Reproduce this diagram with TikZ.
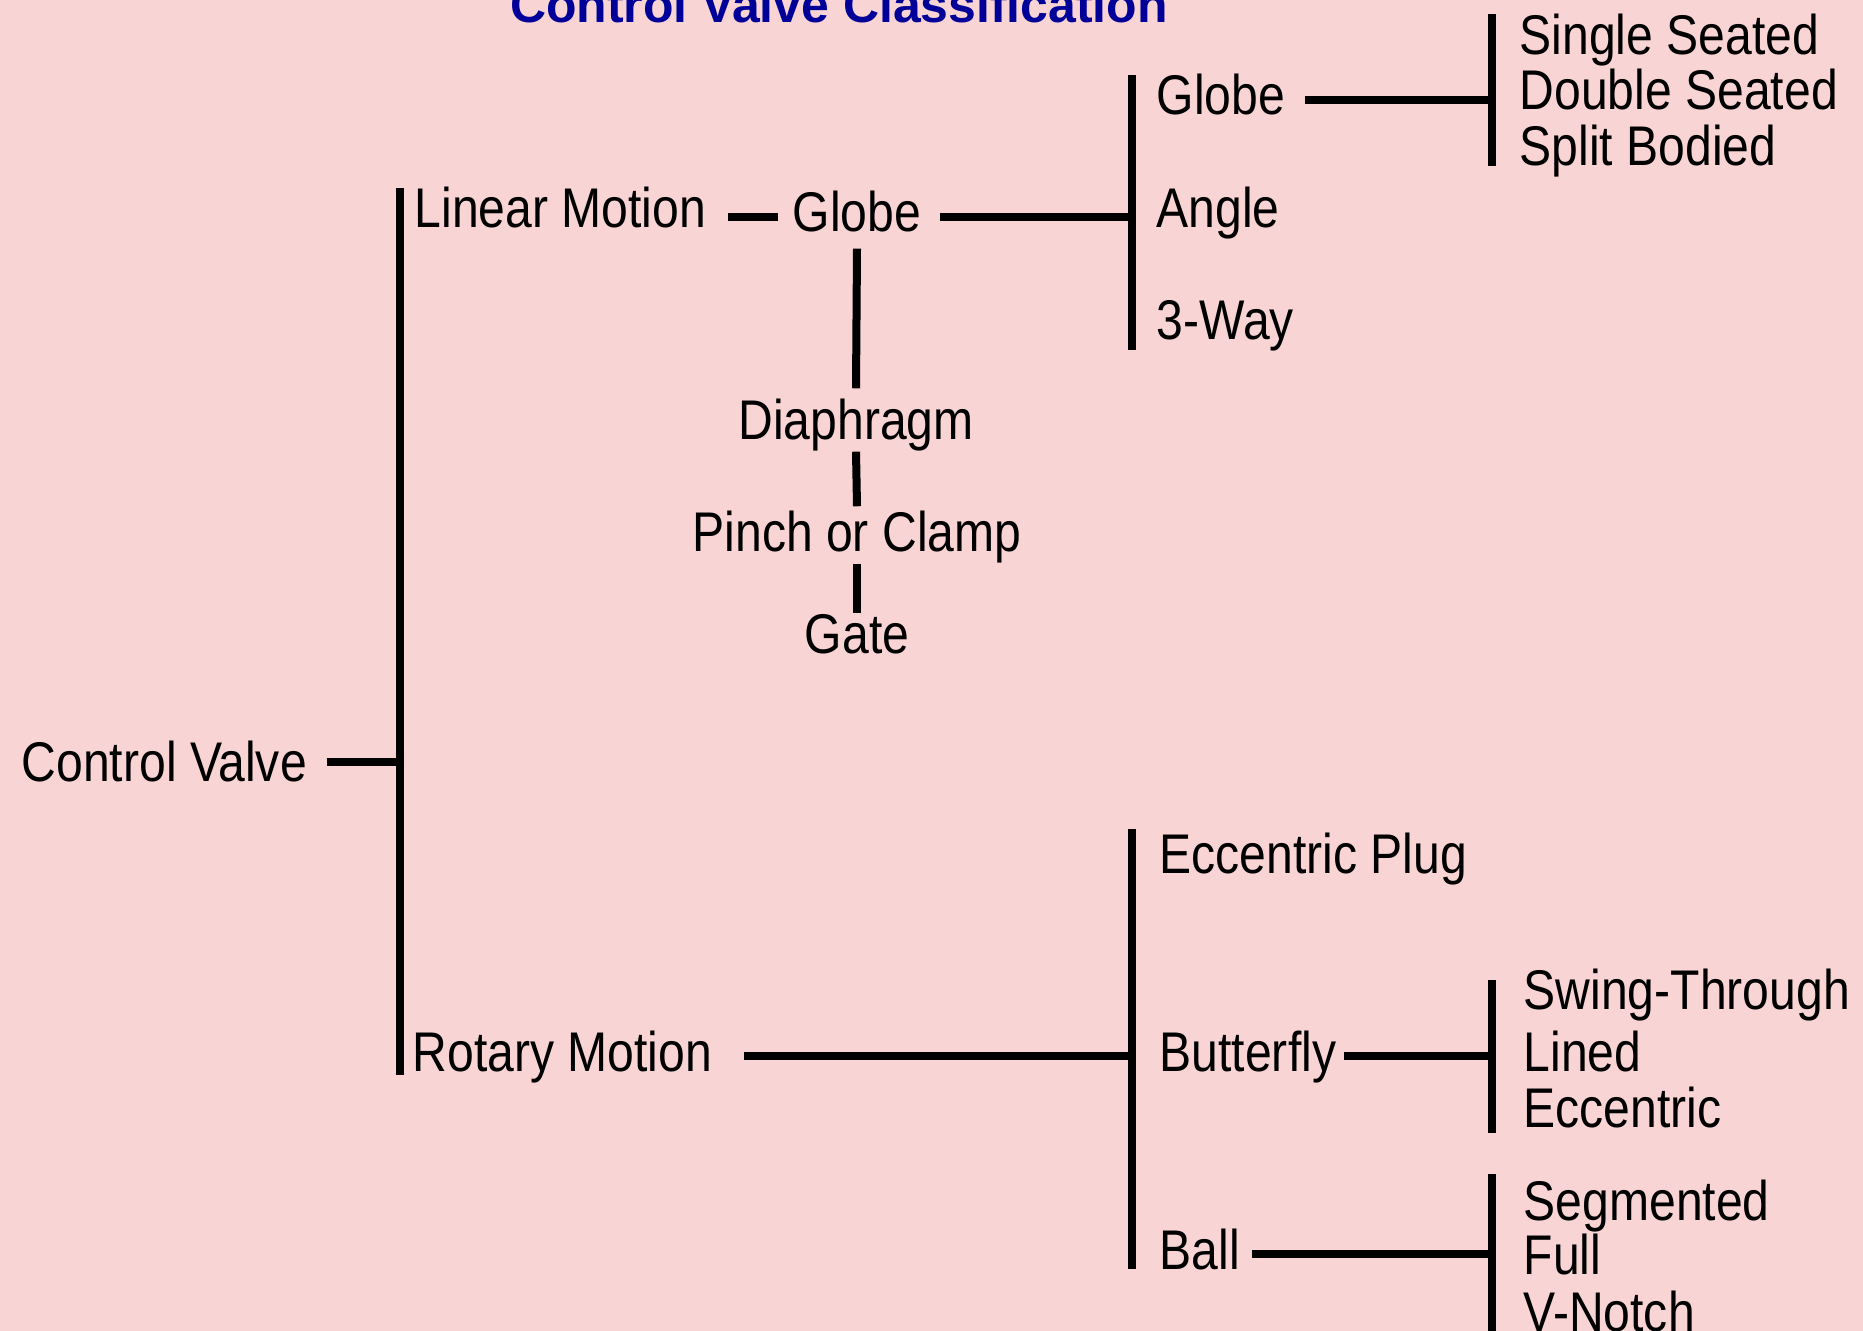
\documentclass[tikz,border=0pt]{standalone}
\usepackage{fontspec}
\setmainfont{Liberation Sans}
\newfontfamily\itemfont[FakeStretch=0.86]{Liberation Sans}
\usetikzlibrary{calc}
\definecolor{bgpink}{RGB}{248,212,212}
\definecolor{titleblue}{RGB}{0,0,153}
\newcommand{\itemtext}{\itemfont\fontsize{15.9}{18}\selectfont}
\newcommand{\titletext}{\bfseries\fontsize{14.2}{17}\selectfont}
\newcommand{\linkwidth}{0.08cm}

\begin{document}
\begin{tikzpicture}[
    x=0.01cm, y=0.01cm,
    item/.style={
        font=\itemtext,
        inner sep=0pt,
        text height=0.3cm,
        text depth=0pt,
        anchor=base west
    },
    midlabel/.style={item, anchor=base},
    heading/.style={font=\titletext, text=titleblue, inner sep=0pt, anchor=base},
    link/.style={line width=\linkwidth},
    brace/.style={line width=\linkwidth}
]

    % --- canvas ---
    \fill[bgpink] (0,0) rectangle (1863,-1331);
    \useasboundingbox (0,0) rectangle (1863,-1331);

    \node[heading] (title) at (839,-23) {Control Valve Classification};

    % --- 1) root and motion types ---
    \node[item] (root)   at (21,-782)   {Control Valve};
    \node[item] (linear) at (414,-228)  {Linear Motion};
    \node[item] (rotary) at (412,-1071) {Rotary Motion};

    % --- 2) linear motion column ---
    \node[midlabel] (lglobe)    at (857,-232) {Globe};
    \node[midlabel] (diaphragm) at (856,-440) {Diaphragm};
    \node[midlabel] (pinch)     at (857,-552) {Pinch or Clamp};
    \node[midlabel] (gate)      at (857,-654) {Gate};

    % --- 3) globe family ---
    \node[item] (globe)    at (1156,-115) {Globe};
    \node[item] (angle)    at (1156,-228) {Angle};
    \node[item] (threeway) at (1156,-340) {3-Way};

    \node[item] (single) at (1519,-55)  {Single Seated};
    \node[item] (double) at (1519,-110) {Double Seated};
    \node[item] (split)  at (1519,-166) {Split Bodied};

    % --- 4) rotary family ---
    \node[item] (plug)      at (1159,-874)  {Eccentric Plug};
    \node[item] (butterfly) at (1159,-1071) {Butterfly};
    \node[item] (ball)      at (1159,-1269) {Ball};

    \node[item] (swing) at (1523,-1010) {Swing-Through};
    \node[item] (lined) at (1523,-1071) {Lined};
    \node[item] (ecc)   at (1523,-1127) {Eccentric};

    \node[item] (segmented) at (1523,-1220) {Segmented};
    \node[item] (full)      at (1523,-1274) {Full};
    \node[item] (vnotch)    at (1523,-1331) {V-Notch};

    % --- bracket bars ---
    \coordinate (mainTop) at (400,-188);   \coordinate (mainBot) at (400,-1075);
    \coordinate (globeTop) at (1132,-75);  \coordinate (globeBot) at (1132,-350);
    \coordinate (seatTop) at (1492,-14);   \coordinate (seatBot) at (1492,-166);
    \coordinate (rotTop) at (1132,-829);   \coordinate (rotBot) at (1132,-1269);
    \coordinate (flyTop) at (1492,-980);   \coordinate (flyBot) at (1492,-1133);
    \coordinate (ballTop) at (1492,-1174); \coordinate (ballBot) at (1492,-1345);

    \draw[brace] (mainTop) -- (mainBot);
    \draw[brace] (globeTop) -- (globeBot);
    \draw[brace] (seatTop) -- (seatBot);
    \draw[brace] (rotTop) -- (rotBot);
    \draw[brace] (flyTop) -- (flyBot);
    \draw[brace] (ballTop) -- (ballBot);

    % --- connectors ---
    \draw[link] ($(root.east)+(19,5)$) -- ($(root.east -| mainTop)+(0,5)$);
    \draw[link] ($(linear.east |- lglobe.east)+(21,0)$) -- ($(lglobe.west)+(-14,0)$);
    \draw[link] ($(lglobe.east)+(18,0)$) -- (lglobe.east -| globeTop);
    \draw[link] ($(globe.east)+(19,0)$) -- (globe.east -| seatTop);
    \draw[link] ($(rotary.east)+(31,0)$) -- (rotary.east -| rotTop);
    \draw[link] ($(butterfly.east)+(7,0)$) -- (butterfly.east -| flyTop);
    \draw[link] ($(ball.east)+(11,0)$) -- (ball.east -| ballTop);

    \draw[link] ($(lglobe.south)+(0,-16)$) -- ($(diaphragm.north)+(0,21)$);
    \draw[link] ($(diaphragm.south)+(0,-11)$) -- ($(pinch.north)+(0,15)$);
    \draw[link] ($(pinch.south)+(0,-11)$) -- ($(gate.north)+(0,10)$);

\end{tikzpicture}
\end{document}
